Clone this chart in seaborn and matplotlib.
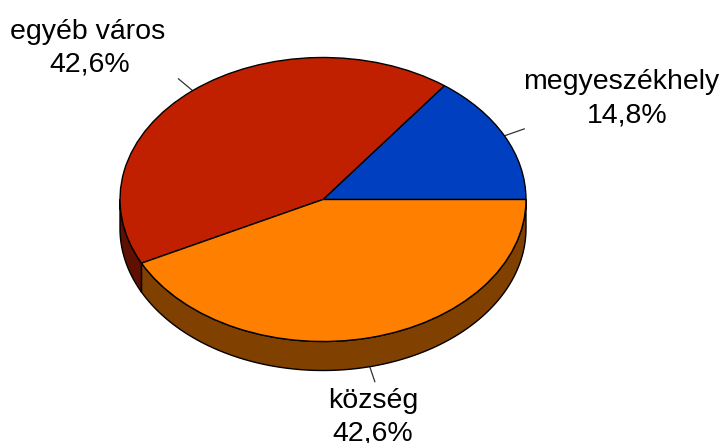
import numpy as np
import matplotlib
matplotlib.use("Agg")
import matplotlib.pyplot as plt
import seaborn as sns

categories = ["megyeszékhely", "egyéb város", "község"]
shares = [14.8, 42.6, 42.6]
share_labels = ["14,8%", "42,6%", "42,6%"]
top_colors = ["#0040C0", "#C02000", "#FF8000"]
side_colors = ["#002060", "#601000", "#804000"]

# where things sit in the picture, in pixels (text: centre x, baseline y)
center_x, center_y = 323, 199.5
radius_x, radius_y = 203, 142
depth = 29 / radius_y
name_pos = [(621, 89), (87.5, 39), (373, 408)]
share_pos = [(627, 122), (90, 71.5), (373, 441)]

sns.set_theme(style="white")
plt.rcParams["font.family"] = ["Liberation Sans", "DejaVu Sans"]

fig = plt.figure(figsize=(7.23, 4.43), dpi=100)
ax = fig.add_axes([0, 0, 1, 1])

angles = np.concatenate([[0], np.cumsum(shares) / np.sum(shares) * 360])

# side wall first, only the part of each slice facing down
for i in range(len(shares)):
    start = max(angles[i], 180)
    stop = angles[i + 1]
    if stop <= start:
        continue
    t = np.radians(np.linspace(start, stop, 100))
    xs = np.concatenate([np.cos(t), np.cos(t[::-1])])
    ys = np.concatenate([np.sin(t), np.sin(t[::-1]) - depth])
    ax.fill(xs, ys, facecolor=side_colors[i], edgecolor="black", linewidth=1.0, zorder=1)

wedges, _ = ax.pie(shares, startangle=0, counterclock=True, colors=top_colors,
                   wedgeprops={"edgecolor": "black", "linewidth": 1.0, "zorder": 2})

ax.set_aspect("auto")
ax.set_xlim(-center_x / radius_x, (723 - center_x) / radius_x)
ax.set_ylim((center_y - 443) / radius_y, center_y / radius_y)


def put_text(pos, s):
    ax.text((pos[0] - center_x) / radius_x, (center_y - pos[1]) / radius_y, s,
            ha="center", va="baseline", fontsize=20.5, color="black")


# short leader lines go out from the rim, at the middle of each slice
for i in range(len(shares)):
    mid = np.radians((angles[i] + angles[i + 1]) / 2)
    drop = depth if np.sin(mid) < 0 else 0
    ax.plot([np.cos(mid), 1.11 * np.cos(mid)],
            [np.sin(mid) - drop, 1.11 * np.sin(mid) - drop],
            color="#333333", linewidth=0.9, zorder=0)
    put_text(name_pos[i], categories[i])
    put_text(share_pos[i], share_labels[i])

fig.savefig("out.png", dpi=100)
